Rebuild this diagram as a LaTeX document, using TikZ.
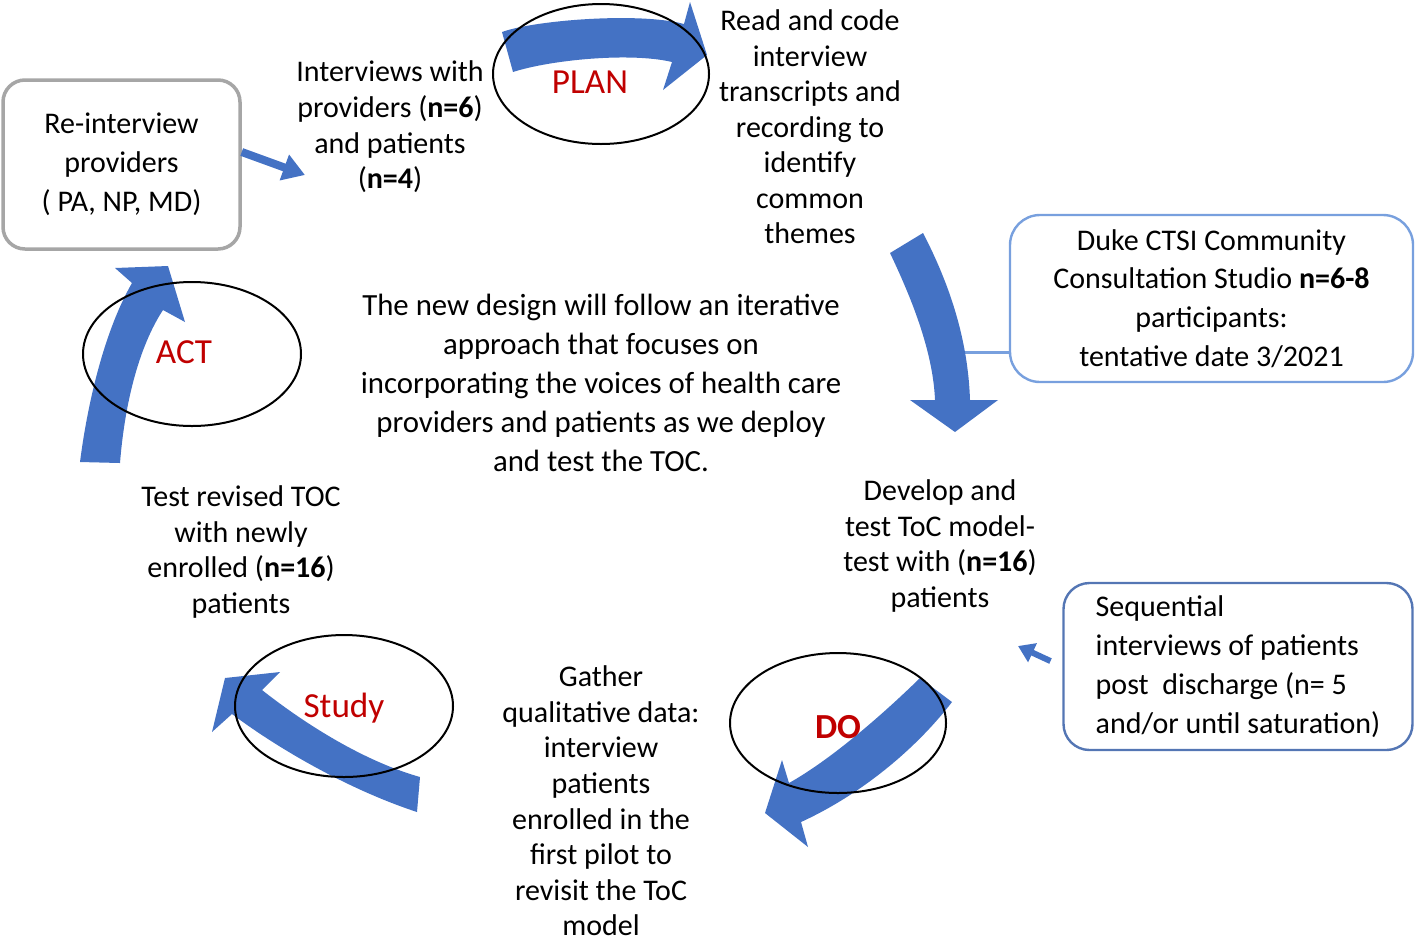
\documentclass[tikz,border=0pt]{standalone}
\usepackage{fontspec}
\setmainfont{Carlito}
\usepackage{xcolor}
\usepackage{tikz}
\usetikzlibrary{positioning,calc,shapes.geometric,arrows.meta}
\definecolor{PDSABlue}{RGB}{68,114,196}

\begin{document}
\begin{tikzpicture}[x=0.5pt, y=-0.5pt]
	\definecolor{pdsared}{RGB}{192,0,0}
	\definecolor{pdsagray}{RGB}{166,166,166}
	\definecolor{dukeblue}{RGB}{120,160,222}
	\definecolor{seqblue}{RGB}{84,118,180}
	\tikzset{
		pdsatext/.style={
			align=center,
			inner sep=0pt,
			font=\fontsize{15}{17.8}\selectfont,
			text=black
		},
		pdsabox/.style={
			draw,
			rounded corners=11pt,
			line width=1.2pt,
			fill=white,
			inner sep=0pt,
			align=center,
			font=\fontsize{15}{19.4}\selectfont
		},
		pdsaring/.style={shape=ellipse, draw=black, line width=1pt, inner sep=0pt},
		pdsalabel/.style={text=pdsared, inner sep=0pt, font=\fontsize{17.6}{20}\selectfont},
		pdsaband/.style={fill=PDSABlue},
		pdsaedge/.style={draw=PDSABlue, -{Triangle[length=11pt,width=13pt]}}
	}
	
	\useasboundingbox (0,0) rectangle (1416,943);
	
	\node[pdsabox, draw=pdsagray, line width=1.75pt, minimum width=118.5pt, minimum height=84.5pt] (reint) at (121.5,164.5) {Re-interview\\providers\\( PA, NP, MD)};
	\node[pdsabox, draw=dukeblue, rounded corners=15pt, minimum width=201.5pt, minimum height=83.5pt] (duke) at (1211.5,298.5) {Duke CTSI Community\\Consultation Studio \textbf{n=6-8}\\participants:\\tentative date 3/2021};
	\node[pdsabox, draw=seqblue, align=left, rounded corners=13pt, minimum width=174.5pt, minimum height=83.5pt] (seq) at (1238,666.5) {Sequential\\interviews of patients\\post\ \ discharge (n= 5\\and/or until saturation)};
	
	\node[pdsatext] (interviews) at (390,127) {Interviews with\\providers (\textbf{n=6})\\and patients\\(\textbf{n=4})};
	\node[pdsatext, font=\fontsize{15}{17.75}\selectfont] (readcode) at (810,127) {Read and code\\interview\\transcripts and\\recording to\\identify\\common\\themes};
	\node[pdsatext, font=\fontsize{15.4}{19.5}\selectfont] (design) at (601,383) {The new design will follow an iterative\\approach that focuses on\\incorporating the voices of health care\\providers and patients as we deploy\\and test the TOC.};
	\node[pdsatext] (develop) at (940,546) {Develop and\\test ToC model-\\test with (\textbf{n=16})\\patients};
	\node[pdsatext] (testrev) at (241,552) {Test revised TOC\\with newly\\enrolled (\textbf{n=16})\\patients};
	\node[pdsatext] (gather) at (601,801) {Gather\\qualitative data:\\interview\\patients\\enrolled in the\\first pilot to\\revisit the ToC\\model};
	
	\coordinate (reinttip) at (305,175);
	\coordinate (seqtip) at (1018,646);
	\coordinate (dukestem) at (962,352);
	\draw[pdsaedge, line width=4pt] ([yshift=6.25pt]reint.east) -- (reinttip);
	\draw[pdsaedge, line width=3pt, -{Triangle[length=8pt,width=10pt]}, shorten <=6.5pt] (seq.west) -- (seqtip);
	\draw[dukeblue, line width=1.5pt] (dukestem) -- (dukestem -| duke.west);
	
	\fill[pdsaband] (502,32) .. controls (535,20) and (640,12) .. (684,24) -- (690,2) -- (707,55) -- (663,90) -- (672,62) .. controls (630,52) and (550,60) .. (513,72) -- cycle;
	\fill[pdsaband] (890,253) .. controls (910,295) and (933,350) .. (935,400) -- (910,400) -- (955,432) -- (998,400) -- (970,400) .. controls (968,340) and (950,285) .. (923,233) -- cycle;
	\fill[pdsaband] (920,678) .. controls (880,717) and (830,760) .. (789,783) -- (782,760) -- (765,813) -- (808,847) -- (801,822) .. controls (860,795) and (915,750) .. (952,702) -- cycle;
	\fill[pdsaband] (420,777) .. controls (360,760) and (300,720) .. (262,690) -- (280,672) -- (225,678) -- (212,732) -- (232,714) .. controls (280,750) and (350,790) .. (417,812) -- cycle;
	\fill[pdsaband] (80,462) .. controls (88,400) and (105,330) .. (132,283) -- (115,268) -- (168,266) -- (185,322) -- (163,310) .. controls (140,345) and (125,400) .. (120,463) -- cycle;
	
	\node[pdsaring, minimum width=108pt, minimum height=70pt] (planring) at (601,74) {};
	\node[pdsaring, minimum width=109pt, minimum height=72pt] (actring) at (192,354) {};
	\node[pdsaring, minimum width=109pt, minimum height=71pt] (studyring) at (344,706) {};
	\node[pdsaring, minimum width=108pt, minimum height=70pt] (doring) at (838,723) {};
	
	\node[pdsalabel] (plan) at (590,82) {PLAN};
	\node[pdsalabel] (act) at (184,352) {ACT};
	\node[pdsalabel] (study) at (344,708) {Study};
	\node[pdsalabel, font=\fontsize{17.6}{20}\selectfont\bfseries] (do) at (838,727) {DO};
\end{tikzpicture}
\end{document}
